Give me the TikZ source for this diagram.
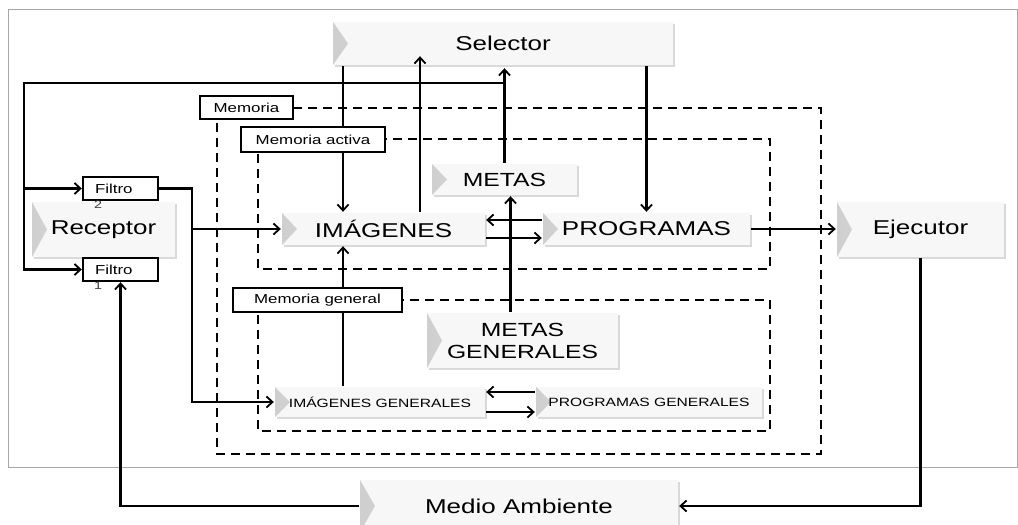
\documentclass[tikz,border=0pt]{standalone}
\usepackage{fontspec}
\setmainfont{Liberation Sans}[FakeStretch=1.3]
\usetikzlibrary{arrows.meta,shadows,calc}

\begin{document}
\begin{tikzpicture}[x=1pt,y=-1pt,line width=2.4pt,
    arr/.style={-{Straight Barb[length=6pt,width=11pt,line width=1.8pt]}},
    bevel/.style={fill=gray!6,inner sep=0pt,font=\fontsize{20}{23}\selectfont,
      drop shadow={shadow xshift=1.5pt,shadow yshift=-1.5pt,opacity=.3},
      path picture={\shade[left color=gray!38,right color=gray!6]
        (path picture bounding box.north west) -- ([xshift=15pt]path picture bounding box.west)
        -- (path picture bounding box.south west) -- cycle;}},
    small/.style={bevel,font=\fontsize{12}{14}\selectfont},
    filt/.style={draw,fill=white,minimum width=75pt,minimum height=23pt,inner xsep=12pt,
      text width=51pt,align=left,font=\fontsize{13}{15}\selectfont},
    tag/.style={draw,fill=white,inner sep=0pt,font=\fontsize{13}{15}\selectfont},
    mem/.style={dash pattern=on 9pt off 6pt}]

  \useasboundingbox (0,0) rectangle (1018,525);
  \draw[gray!70,line width=1pt] (8,9) rectangle (1017,467);

  % memorias
  \draw[mem] (217,108) rectangle (821,454);
  \draw[mem] (258,139) rectangle (770,269);
  \draw[mem] (258,300) rectangle (770,431);

  \node[bevel,minimum width=340pt,minimum height=43pt] (sel) at (503,43.5) {Selector};
  \node[bevel,minimum width=143pt,minimum height=55pt] (rec) at (103.5,229.5) {Receptor};
  \node[bevel,minimum width=167pt,minimum height=55pt] (ejec) at (920.5,229.5) {Ejecutor};
  \node[bevel,minimum width=203pt,minimum height=32pt] (img) at (383.5,229) {IMÁGENES};
  \node[bevel,minimum width=207pt,minimum height=32pt] (prog) at (646.5,229) {PROGRAMAS};
  \node[bevel,minimum width=145pt,minimum height=31pt,font=\fontsize{19}{22}\selectfont] (metas) at (504.5,179.5) {METAS};
  \node[bevel,minimum width=191pt,minimum height=55pt,align=center,font=\fontsize{19}{22}\selectfont] (mg) at (522.5,340.5) {METAS\\GENERALES};
  \node[small,minimum width=210pt,minimum height=30pt] (ig) at (380,402) {IMÁGENES GENERALES};
  \node[small,minimum width=226pt,minimum height=30pt] (pg) at (649,402) {PROGRAMAS GENERALES};
  \node[bevel,minimum width=318pt,minimum height=52pt] (medio) at (519,506) {Medio Ambiente};

  \node[filt] (ftwo) at (120.5,188.5) {Filtro};
  \node[inner sep=0pt,text=gray!50!black,font=\fontsize{11}{13}\selectfont] (ftwonum) at (98,205) {2};
  \node[filt] (fone) at (120.5,269.5) {Filtro};
  \node[inner sep=0pt,text=gray!50!black,font=\fontsize{11}{13}\selectfont] (fonenum) at (98,286) {1};

  % selector
  \draw[arr] ([xshift=-40.5pt]img.north |- sel.south) -- ([xshift=-40.5pt]img.north);
  \draw[arr] ([xshift=36.5pt]img.north) -- ($(img.north |- sel.south)+(36.5,-10)$);
  \draw[arr] (metas.north) -- ($(metas.north |- sel.south)+(0,2)$);
  \draw[arr] (sel.south -| prog.north) -- (prog.north);

  % lazo hacia los filtros
  \coordinate (lazo) at (24,83);
  \draw[arr] (metas.north |- lazo) -- (lazo) |- (fone.west);
  \draw[arr] (lazo |- ftwo.west) -- (ftwo.west);

  \coordinate (cruce) at (192,0);
  \draw[arr] (ftwo.east) -| (cruce |- ig.west) -- (ig.west);
  \draw[arr] (cruce |- img.west) -- (img.west);
  \draw[arr] (medio.west) -| (fone.south);

  % dentro de la memoria
  \draw[arr] ([yshift=9pt]prog.west) -- ([yshift=9pt]img.east);
  \draw[arr] ([yshift=-9pt]img.east) -- ([yshift=-9pt]prog.west);
  \draw[arr] ([yshift=10pt]pg.west) -- ([yshift=10pt]ig.east);
  \draw[arr] ([yshift=-10pt]ig.east) -- ([yshift=-10pt]pg.west);
  \draw[arr] ([xshift=-12pt]mg.north) -- ([xshift=-12pt]mg.north |- metas.south);
  \draw[arr] ([xshift=-40.5pt]img.south |- ig.north) -- ([xshift=-40.5pt]img.south);

  % salida
  \draw[arr] (prog.east) -- (prog.east -| ejec.west);
  \draw[arr] (ejec.south) |- (medio.east);

  \node[tag,minimum width=93pt,minimum height=23pt] (memtag) at (246.5,107.5) {Memoria};
  \node[tag,minimum width=144pt,minimum height=25pt] (acttag) at (313,139.5) {Memoria activa};
  \node[tag,minimum width=169pt,minimum height=24pt] (gentag) at (317.5,300) {Memoria general};

\end{tikzpicture}
\end{document}
